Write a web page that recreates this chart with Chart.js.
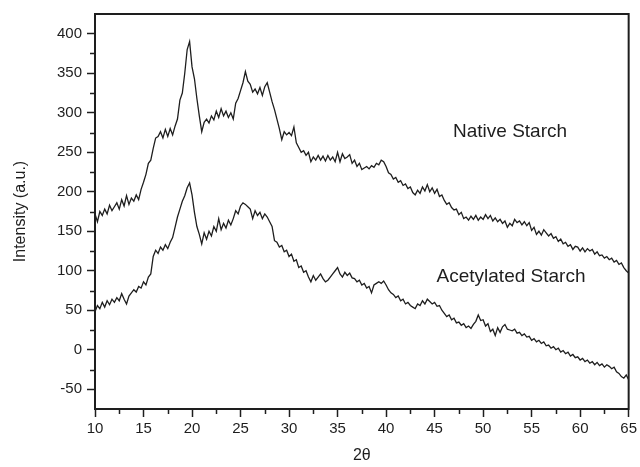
<!DOCTYPE html>
<html>
<head>
<meta charset="utf-8">
<title>XRD patterns - native and acetylated starch</title>
<script src="https://cdn.jsdelivr.net/npm/chart.js@4.4.1/dist/chart.umd.min.js"></script>
<style>
  html, body { margin: 0; padding: 0; background: #fff; }
</style>
</head>
<body>
<canvas id="xrdChart" width="640" height="467"></canvas>
<script>
// 2theta sampling (degrees)
const twoTheta = [
  10, 10.25, 10.5, 10.75, 11, 11.25, 11.5, 11.75, 12, 12.25, 12.5, 12.75, 13, 13.25, 13.5, 13.75, 14, 14.25, 14.5, 14.75,
  15, 15.25, 15.5, 15.75, 16, 16.25, 16.5, 16.75, 17, 17.25, 17.5, 17.75, 18, 18.25, 18.5, 18.75, 19, 19.25, 19.5, 19.75,
  20, 20.25, 20.5, 20.75, 21, 21.25, 21.5, 21.75, 22, 22.25, 22.5, 22.75, 23, 23.25, 23.5, 23.75, 24, 24.25, 24.5, 24.75,
  25, 25.25, 25.5, 25.75, 26, 26.25, 26.5, 26.75, 27, 27.25, 27.5, 27.75, 28, 28.25, 28.5, 28.75, 29, 29.25, 29.5, 29.75,
  30, 30.25, 30.5, 30.75, 31, 31.25, 31.5, 31.75, 32, 32.25, 32.5, 32.75, 33, 33.25, 33.5, 33.75, 34, 34.25, 34.5, 34.75,
  35, 35.25, 35.5, 35.75, 36, 36.25, 36.5, 36.75, 37, 37.25, 37.5, 37.75, 38, 38.25, 38.5, 38.75, 39, 39.25, 39.5, 39.75,
  40, 40.25, 40.5, 40.75, 41, 41.25, 41.5, 41.75, 42, 42.25, 42.5, 42.75, 43, 43.25, 43.5, 43.75, 44, 44.25, 44.5, 44.75,
  45, 45.25, 45.5, 45.75, 46, 46.25, 46.5, 46.75, 47, 47.25, 47.5, 47.75, 48, 48.25, 48.5, 48.75, 49, 49.25, 49.5, 49.75,
  50, 50.25, 50.5, 50.75, 51, 51.25, 51.5, 51.75, 52, 52.25, 52.5, 52.75, 53, 53.25, 53.5, 53.75, 54, 54.25, 54.5, 54.75,
  55, 55.25, 55.5, 55.75, 56, 56.25, 56.5, 56.75, 57, 57.25, 57.5, 57.75, 58, 58.25, 58.5, 58.75, 59, 59.25, 59.5, 59.75,
  60, 60.25, 60.5, 60.75, 61, 61.25, 61.5, 61.75, 62, 62.25, 62.5, 62.75, 63, 63.25, 63.5, 63.75, 64, 64.25, 64.5, 64.75,
  65
];

// Intensity (a.u.)
const nativeStarch = [
  172, 162, 175, 170, 178, 172, 183, 176, 181, 186, 178, 190, 182, 195, 184, 192, 188, 196, 190, 203,
  212, 222, 236, 240, 255, 268, 270, 276, 268, 279, 270, 280, 272, 283, 292, 316, 325, 350, 380, 390,
  358, 343, 318, 296, 276, 288, 292, 287, 296, 291, 302, 294, 305, 296, 302, 294, 300, 292, 312, 318,
  328, 338, 352, 340, 336, 326, 330, 324, 332, 322, 333, 338, 326, 314, 304, 292, 280, 266, 276, 272,
  275, 271, 282, 262, 256, 250, 252, 246, 250, 238, 244, 240, 246, 240, 245, 239, 246, 240, 244, 238,
  250, 238, 248, 242, 244, 247, 236, 240, 232, 236, 228, 230, 232, 229, 233, 231, 236, 234, 240, 238,
  232, 224, 222, 216, 218, 212, 214, 208, 210, 204, 206, 199, 196, 202, 198, 206, 201, 209, 200, 205,
  198, 203, 194, 196, 189, 184, 186, 180, 177, 178, 171, 174, 166, 168, 164, 169, 165, 170, 164, 168,
  165, 171, 166, 170, 163, 167, 162, 165, 160, 163, 155, 160, 157, 165, 161, 163, 158, 162, 157, 161,
  151, 155, 146, 150, 145, 152, 148, 144, 147, 141, 143, 137, 140, 134, 136, 131, 133, 127, 131, 130,
  125, 129, 124, 128, 125, 127, 121, 124, 119, 120, 116, 118, 114, 116, 111, 113, 108, 110, 104, 100,
  97
];

const acetylatedStarch = [
  48, 56, 52, 60, 54, 62, 57, 64, 60, 66, 62, 71, 64, 58, 68, 72, 76, 73, 80, 78,
  86, 82, 92, 96, 118, 126, 122, 130, 126, 133, 128, 136, 142, 155, 168, 178, 188, 195, 205, 211,
  196, 174, 156, 146, 134, 148, 140, 150, 144, 156, 150, 166, 152, 160, 154, 164, 158, 166, 176, 172,
  182, 186, 184, 181, 178, 166, 176, 170, 174, 166, 172, 168, 162, 156, 138, 136, 130, 132, 124, 126,
  118, 121, 112, 114, 104, 106, 98, 100, 92, 86, 94, 88, 92, 96, 90, 86, 88, 92, 96, 100,
  104, 96, 92, 98, 94, 97, 91, 90, 86, 88, 82, 84, 78, 80, 72, 82, 84, 86, 84, 87,
  82, 76, 72, 70, 66, 68, 62, 64, 58, 60, 56, 54, 52, 58, 56, 62, 58, 64, 61, 58,
  60, 55, 56, 50, 46, 42, 44, 38, 40, 34, 35, 31, 33, 28, 30, 27, 32, 36, 44, 37,
  38, 30, 33, 23, 26, 18, 28, 22, 29, 32, 26, 25, 24, 26, 21, 22, 18, 20, 16, 17,
  12, 14, 10, 12, 8, 10, 5, 6, 2, 4, 0, 2, -3, -1, -5, -3, -8, -6, -10, -9,
  -13, -11, -15, -13, -17, -15, -19, -16, -20, -18, -22, -19, -21, -24, -22, -28, -30, -34, -36, -32,
  -38
];

const seriesNames = ['Native Starch', 'Acetylated Starch'];
const xTicks = [10, 15, 20, 25, 30, 35, 40, 45, 50, 55, 60, 65];
const yTicks = [-50, 0, 50, 100, 150, 200, 250, 300, 350, 400];

const FONT = '"Liberation Sans", Arial, Helvetica, sans-serif';
const INK = '#1e1e1e';

// pair angle with intensity for the linear x axis
function toPoints(values) {
    return values.map((v, i) => ({ x: twoTheta[i], y: v }));
}

// box round the plot, minor ticks, and the curve names
const frameAndLabels = {
    id: 'frameAndLabels',
    afterDraw(chart) {
        const { ctx, chartArea: a, scales: { x, y } } = chart;
        ctx.save();
        ctx.strokeStyle = INK;
        ctx.lineWidth = 2;
        ctx.strokeRect(a.left, a.top, a.right - a.left, a.bottom - a.top);

        // minor ticks half way between the major ones
        ctx.lineWidth = 1.5;
        ctx.beginPath();
        for (let i = 0; i < xTicks.length - 1; i++) {
            const px = Math.round(x.getPixelForValue((xTicks[i] + xTicks[i + 1]) / 2)) + 0.5;
            ctx.moveTo(px, a.bottom);
            ctx.lineTo(px, a.bottom + 5);
        }
        for (let i = 0; i < yTicks.length - 1; i++) {
            const py = Math.round(y.getPixelForValue((yTicks[i] + yTicks[i + 1]) / 2)) + 0.5;
            ctx.moveTo(a.left, py);
            ctx.lineTo(a.left - 5, py);
        }
        ctx.stroke();

        ctx.fillStyle = INK;
        ctx.font = '19px ' + FONT;
        ctx.textBaseline = 'middle';
        ctx.textAlign = 'left';
        ctx.fillText(seriesNames[0], x.getPixelForValue(46.9), y.getPixelForValue(276));
        ctx.fillText(seriesNames[1], x.getPixelForValue(45.2), y.getPixelForValue(92));
        ctx.restore();
    }
};

const ctx = document.getElementById('xrdChart').getContext('2d');

new Chart(ctx, {
    type: 'line',
    data: {
        datasets: [
            { label: seriesNames[0], data: toPoints(nativeStarch) },
            { label: seriesNames[1], data: toPoints(acetylatedStarch) }
        ]
    },
    options: {
        responsive: false,
        animation: false,
        devicePixelRatio: 1,
        layout: { padding: { top: 14, right: 9, left: 0, bottom: 0 } },
        elements: {
            point: { radius: 0 },
            line: { borderWidth: 1.3, borderColor: INK, tension: 0, fill: false }
        },
        plugins: {
            legend: { display: false },
            tooltip: { enabled: false }
        },
        scales: {
            x: {
                type: 'linear',
                min: 10,
                max: 65,
                afterBuildTicks: (scale) => { scale.ticks = xTicks.map(v => ({ value: v })); },
                afterFit: (scale) => { scale.height = 58; },
                grid: { drawOnChartArea: false, tickLength: 8, tickWidth: 1.5, tickColor: INK },
                border: { color: INK, width: 2 },
                ticks: { color: INK, font: { family: FONT, size: 15 }, padding: 3, maxRotation: 0 },
                title: {
                    display: true,
                    text: '2θ',
                    color: INK,
                    font: { family: FONT, size: 16 },
                    padding: { top: 0, bottom: 2 }
                }
            },
            y: {
                min: -75,
                max: 425,
                afterBuildTicks: (scale) => { scale.ticks = yTicks.map(v => ({ value: v })); },
                afterFit: (scale) => { scale.width = 95; },
                grid: { drawOnChartArea: false, tickLength: 8, tickWidth: 1.5, tickColor: INK },
                border: { color: INK, width: 2 },
                ticks: { color: INK, font: { family: FONT, size: 15 }, padding: 5 },
                title: {
                    display: true,
                    text: 'Intensity (a.u.)',
                    color: INK,
                    font: { family: FONT, size: 16 },
                    padding: { top: 11, bottom: 0 }
                }
            }
        }
    },
    plugins: [frameAndLabels]
});
</script>
</body>
</html>
